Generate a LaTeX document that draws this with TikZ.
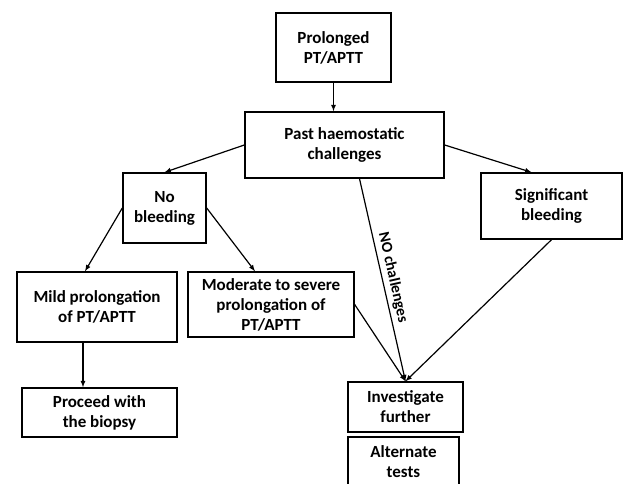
\documentclass[tikz,border=0pt]{standalone}
\usepackage{fontspec}
\setmainfont{Carlito}
\usepackage{tikz}
\tikzset{box/.style={draw,line width=1.4pt,align=center,inner sep=2pt,font=\fontsize{17}{20}\selectfont\bfseries},
  link/.style={-latex,line width=1.2pt}}

\begin{document}
\begin{tikzpicture}[x=1pt,y=-1pt]
        \useasboundingbox (0,0) rectangle (624,484);
        \node[box,minimum width=115pt,minimum height=69pt] (prolonged) at (333.5,47.5) {Prolonged\\PT/APTT};
        \node[box,minimum width=199pt,minimum height=66pt] (past) at (344.5,145) {Past haemostatic\\challenges};
        \node[box,minimum width=83pt,minimum height=70pt] (nobleed) at (164.5,208) {No\\bleeding};
        \node[box,minimum width=141pt,minimum height=66pt] (signif) at (551.5,206) {Significant\\bleeding};
        \node[box,minimum width=160pt,minimum height=70pt] (mild) at (97,307) {Mild prolongation\\of PT/APTT};
        \node[box,minimum width=166pt,minimum height=65pt] (moderate) at (271,304.5) {Moderate to severe\\prolongation of\\PT/APTT};
        \node[box,minimum width=155pt,minimum height=49pt] (proceed) at (99.5,412.5) {Proceed with\\the biopsy};
        \node[box,minimum width=115pt,minimum height=50pt] (investigate) at (405.5,407) {Investigate\\further};
        \node[box,minimum width=111pt,minimum height=50pt] (alternate) at (403.5,462) {Alternate\\tests};
        \draw[link] (prolonged.south) -- (prolonged.south |- past.north);
        \draw[link] (past.west) -- (nobleed.north);
        \draw[link] (past.east) -- ([xshift=-20pt]signif.north);
        \draw[link] (nobleed.west) -- ([xshift=-12pt]mild.north);
        \draw[link] (nobleed.east) -- ([xshift=-16pt]moderate.north);
        \draw[link] ([xshift=-14pt]mild.south) -- ([xshift=-14pt]mild.south |- proceed.north);
        \draw[link] ([xshift=15pt]past.south) -- (investigate.north)
        node[midway,sloped,above,font=\fontsize{15.5}{18}\selectfont\bfseries] {NO challenges};
        \foreach \src in {moderate.east,signif.south}
        \draw[link] (\src) -- (investigate.north);
\end{tikzpicture}
\end{document}
